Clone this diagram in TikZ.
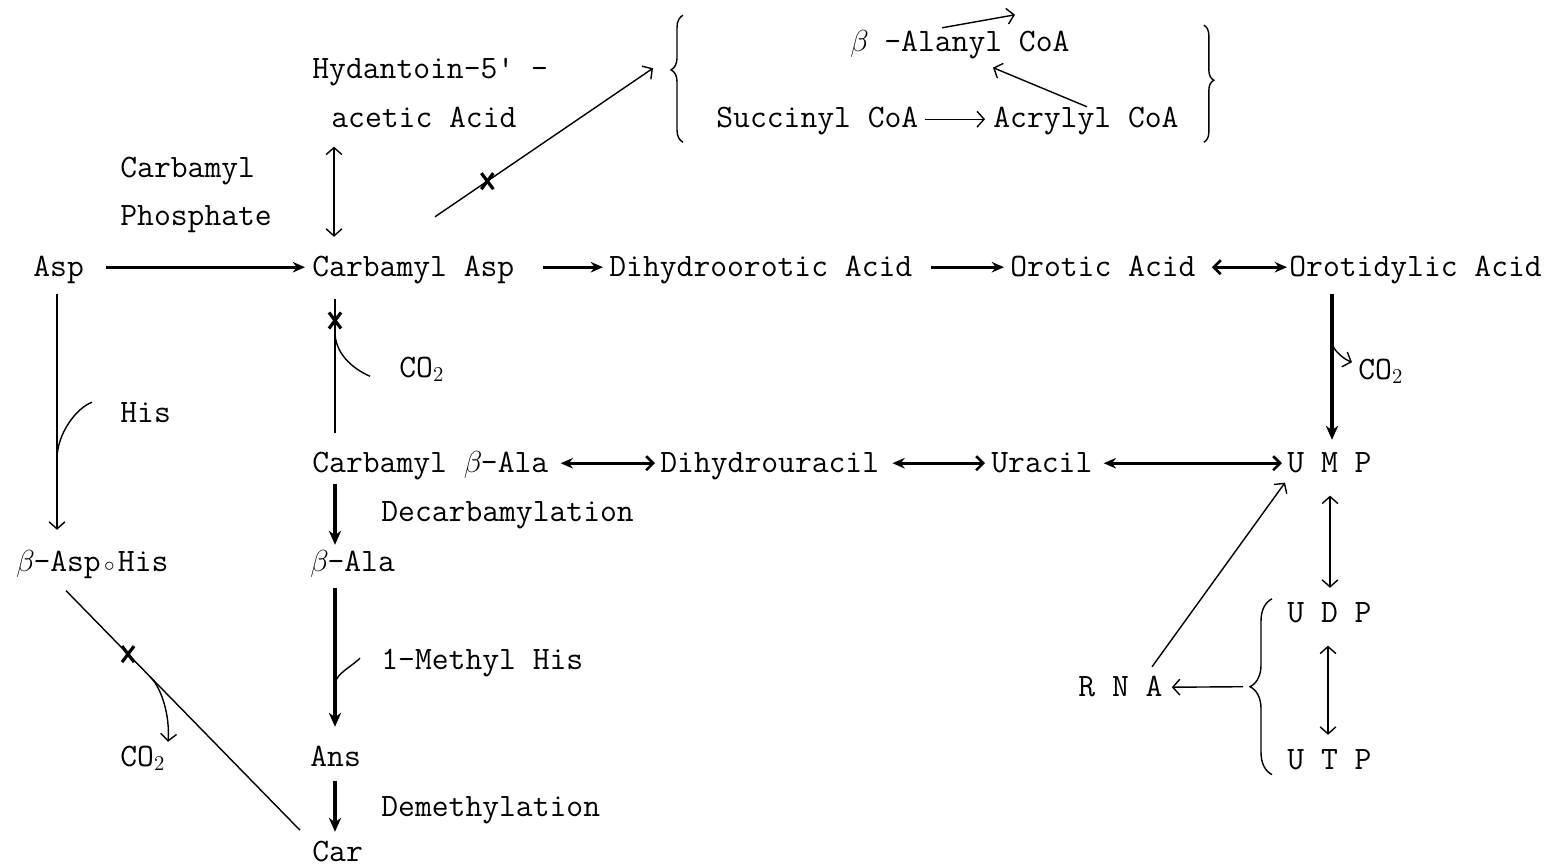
\documentclass[tikz,border=0pt]{standalone}
\usepackage{fontspec}
\usepackage{tikz}
\usetikzlibrary{calc,arrows.meta,decorations.pathreplacing}
\newcommand{\figurescale}{0.02cm}
\newcommand{\chemfont}{\ttfamily\fontsize{18.6}{20}\selectfont}
\newcommand{\bt}{\makebox[0.525em][l]{$\beta$}}
\newcommand{\dt}{\makebox[0.525em]{$\scriptstyle\circ$}}
\newcommand{\blockmark}[1]{
	\draw[line width=1.8pt] ($(#1)+(-6,-8)$) -- ($(#1)+(6,8)$);
	\draw[line width=1.8pt] ($(#1)+(-6,8)$) -- ($(#1)+(6,-8)$);
}

\begin{document}
\begin{tikzpicture}[x=\figurescale,y=-\figurescale,
	chem/.style={anchor=base west, inner sep=0pt, text height=13pt, text depth=3pt, font=\chemfont},
	heavy/.style={line width=2.2pt, -{Stealth[length=8pt,width=7pt]}},
	flow/.style={line width=1.5pt, -{Stealth[length=7pt,width=6pt]}},
	flowboth/.style={line width=1.5pt, {Stealth[length=7pt,width=6pt]}-{Straight Barb[length=4pt,width=8pt]}},
	flowrev/.style={line width=1.5pt, {Straight Barb[length=4pt,width=8pt]}-{Stealth[length=7pt,width=6pt]}},
	thinarr/.style={line width=0.8pt, -{Straight Barb[length=4pt,width=9pt]}},
	thinboth/.style={line width=0.8pt, {Straight Barb[length=4pt,width=9pt]}-{Straight Barb[length=4pt,width=9pt]}},
	branch/.style={line width=0.8pt}]
	\useasboundingbox (0,0) rectangle (1551,868);

	\node[chem] (hyd) at (312,79) {Hydantoin–5' –};
	\node[chem] (acetic) at (331,128) {acetic Acid};
	\node[chem] (balcoa) at (850,52) {\bt{} –Alanyl CoA};
	\node[chem] (succ) at (716,128) {Succinyl CoA};
	\node[chem] (acr) at (993,128) {Acrylyl CoA};
	\node[chem] (carbp1) at (120,178) {Carbamyl};
	\node[chem] (carbp2) at (120,226) {Phosphate};
	\node[chem] (asp) at (33,276) {Asp};
	\node[chem] (cbasp) at (312,276) {Carbamyl Asp};
	\node[chem] (dhoa) at (609,276) {Dihydroorotic Acid};
	\node[chem] (oa) at (1010,276) {Orotic Acid};
	\node[chem] (oma) at (1289,276) {Orotidylic Acid};
	\node[chem] (co2a) at (399,377) {CO$_2$};
	\node[chem] (co2b) at (1358,379) {CO$_2$};
	\node[chem] (his) at (120,422) {His};
	\node[chem] (cbala) at (312,472) {Carbamyl \bt–Ala};
	\node[chem] (dhu) at (660,472) {Dihydrouracil};
	\node[chem] (ura) at (991,472) {Uracil};
	\node[chem] (ump) at (1287,472) {U M P};
	\node[chem] (decarb) at (381,521) {Decarbamylation};
	\node[chem] (bashis) at (16,571) {\bt–Asp\dt His};
	\node[chem] (bala) at (310,571) {\bt–Ala};
	\node[chem] (udp) at (1287,622) {U D P};
	\node[chem] (methhis) at (381,669) {1–Methyl His};
	\node[chem] (rna) at (1078,696) {R N A};
	\node[chem] (co2c) at (120,766) {CO$_2$};
	\node[chem] (ans) at (310,766) {Ans};
	\node[chem] (utp) at (1287,769) {U T P};
	\node[chem] (demeth) at (381,816) {Demethylation};
	\node[chem] (car) at (312,861) {Car};

	\coordinate (rnabrace) at ($(udp.north west)!0.5!(utp.south west)+(-37,0)$);

	\draw[flow] ($(asp.east)+(22,0)$) -- ($(cbasp.west)+(-7,0)$);
	\draw[flow] ($(cbasp.east)+(28,0)$) -- ($(dhoa.west)+(-6,0)$);
	\draw[flow] ($(dhoa.east)+(18,0)$) -- ($(oa.west)+(-6,0)$);
	\draw[flowrev] ($(oa.east)+(16,0)$) -- ($(oma.west)+(-2,0)$);
	\draw[flowboth] ($(cbala.east)+(12,0)$) -- ($(dhu.west)+(-5,0)$);
	\draw[flowboth] ($(dhu.east)+(13,0)$) -- ($(ura.west)+(-6,0)$);
	\draw[flowboth] ($(ura.east)+(11,0)$) -- ($(ump.west)+(-5,0)$);
	\draw[thinarr] ($(succ.east)+(6,0)$) -- ($(acr.west)+(-8,0)$);

	\draw[thinboth] ($(acetic.south west)+(3,13)$) -- ($(cbasp.north west)+(22,-16)$);
	\draw[branch] ($(cbasp.south west)+(23,17)$) -- coordinate[pos=0.163] (cbx) coordinate[pos=0.27] (cbco) ($(cbala.north west)+(23,-16)$);
	\blockmark{cbx}
	\draw[branch] (cbco) .. controls +(2,22) and +(-14,-6) .. ($(co2a.west)+(-29,8)$);

	\draw[thinarr] ($(asp.south west)+(24,12)$) -- coordinate[pos=0.7] (hisin) ($(bashis.north west)+(41,-18)$);
	\draw[branch] (hisin) .. controls +(0,-25) and +(-16,6) .. ($(his.west)+(-28,-11)$);

	\draw[heavy] ($(cbala.south west)+(23,6)$) -- ($(bala.north west)+(25,-3)$);
	\draw[heavy] ($(bala.south west)+(25,11)$) -- coordinate[pos=0.686] (mhin) ($(ans.north west)+(25,-16)$);
	\draw[branch] (mhin) .. controls +(2,-10) and +(-8,8) .. ($(methhis.west)+(-21,-2)$);
	\draw[heavy] ($(ans.south west)+(25,9)$) -- ($(car.north west)+(23,-6)$);

	\draw[branch] ($(bashis.south west)+(50,14)$) -- coordinate[pos=0.265] (bhx) coordinate[pos=0.36] (bhco) ($(car.west)+(-12,-22)$);
	\blockmark{bhx}
	\draw[thinarr] (bhco) .. controls +(12,12) and +(2,-25) .. ($(co2c.north west)+(48,-1)$);

	\draw[heavy] ($(oma.south west)+(43,12)$) -- coordinate[pos=0.34] (omco) ($(ump.north west)+(45,-9)$);
	\draw[thinarr] (omco) .. controls +(2,8) and +(-8,-3) .. ($(co2b.west)+(-6,-8)$);

	\draw[thinboth] ($(ump.south west)+(43,18)$) -- ($(udp.north west)+(43,-11)$);
	\draw[thinboth] ($(udp.south west)+(41,18)$) -- ($(utp.north west)+(41,-11)$);
	\draw[branch, decorate, decoration={brace, amplitude=12.5pt}] ($(utp.south west)+(-15,0)$) -- ($(udp.north west)+(-15,0)$);
	\draw[thinarr] ($(rnabrace)+(-7,0)$) -- ($(rna.east)+(9,0)$);
	\draw[thinarr] ($(rna.north west)+(74,-6)$) -- ($(ump.south west)+(-2,5)$);

	\draw[branch, decorate, decoration={brace, amplitude=6.8pt, aspect=0.57}] ($(succ.west)+(-33,23)$) -- ($(succ.west)+(-33,-104)$);
	\draw[branch, decorate, decoration={brace, amplitude=5.7pt, aspect=0.47}] ($(acr.east)+(25,-94)$) -- ($(acr.east)+(25,23)$);
	\draw[thinarr] ($(cbasp.north west)+(123,-36)$) -- coordinate[pos=0.24] (hydx) ($(succ.west)+(-63,-51)$);
	\blockmark{hydx}
	\draw[thinarr] ($(balcoa.north west)+(92,-1)$) -- ++(73,-13);
	\draw[thinarr] ($(acr.north west)+(94,2)$) -- ($(balcoa.south west)+(143,10)$);
\end{tikzpicture}
\end{document}
